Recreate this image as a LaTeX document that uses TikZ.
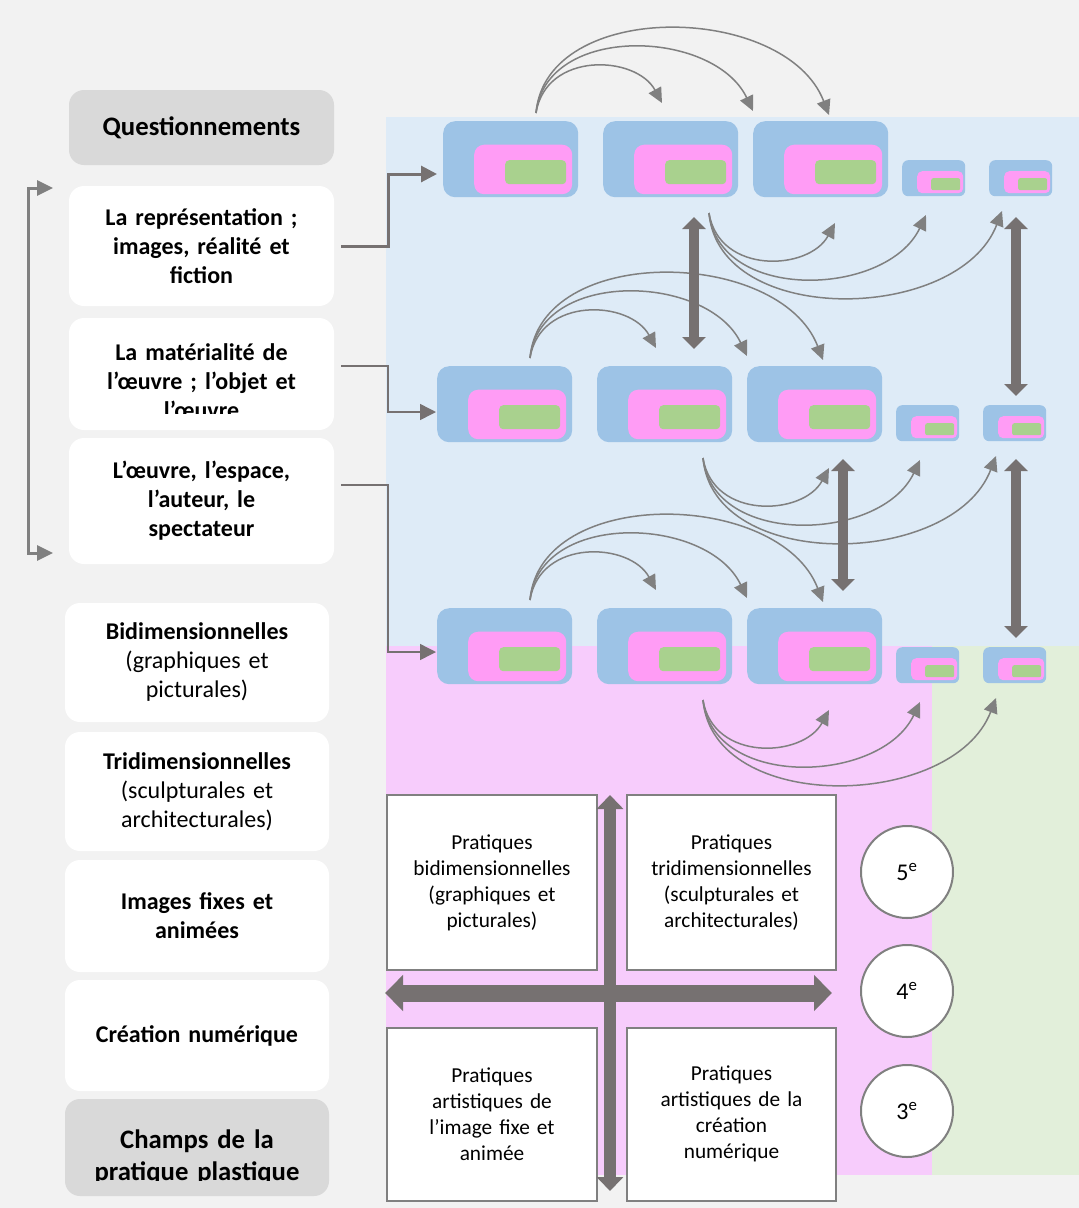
\documentclass[tikz,border=0pt]{standalone}
\usepackage{fontspec}
\setmainfont{Carlito}
\usetikzlibrary{arrows.meta,positioning}

\definecolor{fondgris}{HTML}{F2F2F2}
\definecolor{fondbleu}{HTML}{DEEBF7}
\definecolor{fondrose}{HTML}{F7CCFC}
\definecolor{fondvert}{HTML}{E2EFDA}
\definecolor{bleuboite}{HTML}{9DC3E6}
\definecolor{roseboite}{HTML}{FF9CF5}
\definecolor{vertboite}{HTML}{A9D18E}
\definecolor{grisetiq}{HTML}{D9D9D9}
\definecolor{grisfleche}{HTML}{808080}
\definecolor{grisfonce}{HTML}{767171}

\tikzset{
  etiquette/.style={fill=white, rounded corners=15pt, minimum width=265pt, inner sep=0pt,
    align=center, text width=245pt, font=\fontsize{24}{29}\selectfont\bfseries},
  etiquettemixte/.style={etiquette, minimum width=264pt, font=\fontsize{24}{29}\selectfont},
  titre/.style={etiquette, fill=grisetiq, font=\fontsize{26.7}{32.5}\selectfont\bfseries},
  grand/.style={fill=bleuboite, rounded corners=12pt, minimum width=135pt, minimum height=76pt, inner sep=0pt, anchor=north west},
  grandrose/.style={fill=roseboite, rounded corners=10pt, minimum width=98pt, minimum height=49.5pt, inner sep=0pt, anchor=north west},
  grandvert/.style={fill=vertboite, rounded corners=4pt, minimum width=61pt, minimum height=24pt, inner sep=0pt, anchor=north west},
  petit/.style={fill=bleuboite, rounded corners=6pt, minimum width=63pt, minimum height=36pt, inner sep=0pt, anchor=north west},
  petitrose/.style={fill=roseboite, rounded corners=5pt, minimum width=46pt, minimum height=22pt, inner sep=0pt, anchor=north west},
  petitvert/.style={fill=vertboite, rounded corners=2pt, minimum width=29pt, minimum height=12pt, inner sep=0pt, anchor=north west},
  fleche/.style={draw=grisfleche, line width=1.5pt, -{Triangle[length=15pt,width=14pt]}},
  lien/.style={draw=grisfonce, line width=1.5pt, -{Triangle[length=16pt,width=16pt]}},
  lienfort/.style={lien, line width=3pt},
  crochet/.style={draw=grisfleche, line width=3pt, {Triangle[length=16pt,width=15pt]}-{Triangle[length=16pt,width=15pt]}},
  epais/.style={draw=grisfonce, line width=10pt, {Triangle[length=12pt,width=23pt]}-{Triangle[length=12pt,width=23pt]}},
  croixh/.style={draw=grisfonce, line width=17pt, {Triangle[length=18pt,width=35pt]}-{Triangle[length=18pt,width=35pt]}},
  croixv/.style={draw=grisfonce, line width=12pt, {Triangle[length=14pt,width=26pt]}-{Triangle[length=14pt,width=26pt]}},
  pratique/.style={draw=grisfleche, line width=2pt, fill=white, minimum height=175pt, inner sep=0pt,
    align=center, text width=205pt, font=\fontsize{21.3}{26}\selectfont},
  niveau/.style={circle, draw=grisfleche, line width=2pt, fill=white, minimum size=92pt, inner sep=0pt,
    font=\fontsize{24}{29}\selectfont}
}

% une rangee de boites : #1 nom, #2 coin haut gauche
\newcommand\rangee[2]{%
  \begin{scope}[shift={(#2)}]
    \foreach \n/\dx in {a/0,b/160,c/310}{
      \node[grand] (#1\n) at (\dx,0) {};
      \node[grandrose] (#1\n-rose) at (\dx+31,23.5) {};
      \node[grandvert] (#1\n-vert) at (\dx+62,39) {};
    }
    \foreach \n/\dx in {d/459,e/546}{
      \node[petit] (#1\n) at (\dx,39) {};
      \node[petitrose] (#1\n-rose) at (\dx+15,50) {};
      \node[petitvert] (#1\n-vert) at (\dx+29,57) {};
    }
    \coordinate (#1h) at (93,-8);
    \coordinate (#1s) at (266,92);
  \end{scope}}

% trois fleches courbes : #1 depart, #2 = 1 vers le haut, -1 vers le bas
\newcommand\faisceau[2]{%
  \begin{scope}[shift={(#1)}, yscale=#2]
    \foreach \n/\tx/\ty/\ax/\ay/\bx/\by in {1/126/-10/10/-62/100/-58, 2/217/-2/10/-90/178/-84, 3/293/2/10/-115/250/-110}{
      \coordinate (#1-\n) at (\tx,\ty);
      \coordinate (#1-\n-a) at (\ax,\ay);
      \coordinate (#1-\n-b) at (\bx,\by);
    }
  \end{scope}
  \foreach \n in {1,2,3}
    \draw[fleche] (#1) .. controls (#1-\n-a) and (#1-\n-b) .. (#1-\n);}

\begin{document}
\begin{tikzpicture}[x=1pt,y=-1pt]
  % fonds
  \fill[fondgris] (0,0) rectangle (1079,1208);
  \useasboundingbox (0,0) rectangle (1079,1208);
  \fill[fondbleu] (386,117) rectangle (1079,646);
  \fill[fondrose] (386,646) rectangle (932,1175);
  \fill[fondvert] (932,646) rectangle (1079,1175);

  % colonne de gauche
  \node[titre, minimum height=75pt] (q0) at (201.5,127.5) {Questionnements};
  \node[etiquette, minimum height=120pt] (q1) at (201.5,246) {La représentation ;\\ images, réalité et\\ fiction};
  \node[etiquette, minimum height=112pt] (q2) at (201.5,374) {};
  \begin{scope}
    \clip (69,318) rectangle (334,413);
    \node[etiquette, fill=none] (q2t) at (201.5,381) {La matérialité de\\ l’œuvre ; l’objet et\\ l’œuvre};
  \end{scope}
  \node[etiquette, minimum height=126pt] (q3) at (201.5,501) {L’œuvre, l’espace,\\ l’auteur, le\\ spectateur};

  \node[etiquettemixte, minimum height=119pt] (c1) at (197,662.5) {\textbf{Bidimensionnelles}\\ (graphiques et\\ picturales)};
  \node[etiquettemixte, minimum height=119pt] (c2) at (197,791.5) {\textbf{Tridimensionnelles}\\ (sculpturales et\\ architecturales)};
  \node[etiquette, minimum width=264pt, minimum height=112pt] (c3) at (197,916) {Images fixes et\\ animées};
  \node[etiquette, minimum width=264pt, minimum height=111pt] (c4) at (197,1035.5) {Création numérique};
  \node[titre, minimum width=264pt, minimum height=97pt] (c5) at (197,1147.5) {};
  \begin{scope}
    \clip (65,1099) rectangle (329,1180);
    \node[titre, fill=none] (c5t) at (197,1157) {Champs de la\\ pratique plastique};
  \end{scope}

  % crochet
  \coordinate (b1) at (53,188);
  \coordinate (b2) at (28,188);
  \coordinate (b3) at (28,553);
  \coordinate (b4) at (53,553);
  \draw[crochet] (b1) -- (b2) -- (b3) -- (b4);

  % rangees
  \rangee{r1}{443,121}
  \rangee{r2}{437,366}
  \rangee{r3}{437,608}

  % liens questionnements -> rangees
  \coordinate (r1in) at (437,174);
  \coordinate (r2in) at (436,412);
  \coordinate (r3in) at (436,652);
  \draw[lienfort] ([xshift=7pt]q1.east) -- ++(47,0) |- (r1in);
  \draw[lien] ([xshift=7pt,yshift=8pt]q2.east) -- ++(47,0) |- (r2in);
  \draw[lien] ([xshift=7pt,yshift=16pt]q3.east) -- ++(47,0) |- (r3in);

  % fleches courbes
  \faisceau{r1h}{1}
  \faisceau{r1s}{-1}
  \faisceau{r2h}{1}
  \faisceau{r2s}{-1}
  \faisceau{r3h}{1}
  \faisceau{r3s}{-1}

  % fleches epaisses entre rangees
  \coordinate (ea1) at (694,217);
  \coordinate (ea2) at (694,349);
  \coordinate (eb1) at (1016,217);
  \coordinate (eb2) at (1016,396);
  \coordinate (ec1) at (843,459);
  \coordinate (ec2) at (843,591);
  \coordinate (ed1) at (1016,459);
  \coordinate (ed2) at (1016,638);
  \draw[epais] (ea1) -- (ea2);
  \draw[epais] (eb1) -- (eb2);
  \draw[epais] (ec1) -- (ec2);
  \draw[epais] (ed1) -- (ed2);

  % pratiques
  \node[pratique, minimum width=210pt] (p1) at (492,882.5) {Pratiques\\ bidimensionnelles\\ (graphiques et\\ picturales)};
  \node[pratique, minimum width=209pt] (p2) at (731.5,882.5) {Pratiques\\ tridimensionnelles\\ (sculpturales et\\ architecturales)};
  \node[pratique, minimum width=210pt, minimum height=173pt] (p3) at (492,1114) {Pratiques\\ artistiques de\\ l’image fixe et\\ animée};
  \node[pratique, minimum width=209pt, minimum height=173pt] (p4) at (731.5,1114) {Pratiques\\ artistiques de la\\ création\\ numérique};

  \coordinate (xg) at (385,993);
  \coordinate (xd) at (832,993);
  \coordinate (xh) at (610,795);
  \coordinate (xb) at (610,1191);
  \draw[croixh] (xg) -- (xd);
  \draw[croixv] (xh) -- (xb);

  % niveaux
  \node[niveau] (n5) at (907,872) {5\textsuperscript{e}};
  \node[niveau] (n4) at (907,991) {4\textsuperscript{e}};
  \node[niveau] (n3) at (907,1111) {3\textsuperscript{e}};
\end{tikzpicture}
\end{document}
